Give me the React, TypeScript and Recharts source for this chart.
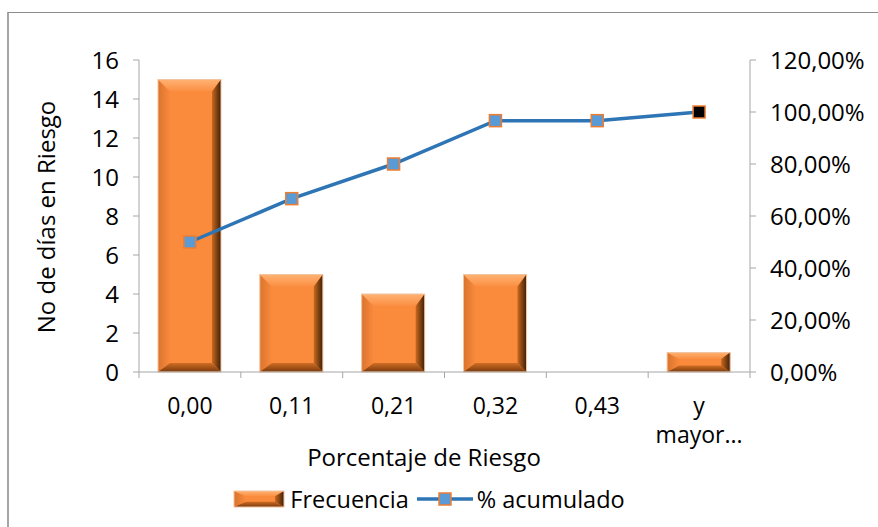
import {
  ComposedChart,
  Bar,
  Line,
  XAxis,
  YAxis,
  Legend,
} from 'recharts';

const categories = ['0,00', '0,11', '0,21', '0,32', '0,43', 'y mayor...'];
const frecuencia = [15, 5, 4, 5, 0, 1];
const acumulado = [0.5, 0.6667, 0.8, 0.9667, 0.9667, 1.0];
const leftTicks = [0, 2, 4, 6, 8, 10, 12, 14, 16];
const rightTicks = [0, 0.2, 0.4, 0.6, 0.8, 1.0, 1.2];

const data = categories.map((c, i) => ({
  name: c,
  frecuencia: frecuencia[i],
  acumulado: acumulado[i],
}));

const FONT = '"Open Sans", sans-serif';
const FS = 24;
const AXIS = '#a6a6a6';
const BAND = (750 - 139) / categories.length;

const BevelDefs = ({ id }: { id: string }) => (
  <defs>
    <linearGradient id={`${id}-top`} x1="0" y1="0" x2="0" y2="1">
      <stop offset="0%" stopColor="#ffb273" />
      <stop offset="100%" stopColor="#fb8e42" />
    </linearGradient>
    <linearGradient id={`${id}-left`} x1="0" y1="0" x2="1" y2="0">
      <stop offset="0%" stopColor="#d9742d" />
      <stop offset="100%" stopColor="#fa8a3c" />
    </linearGradient>
    <linearGradient id={`${id}-right`} x1="0" y1="0" x2="1" y2="0">
      <stop offset="0%" stopColor="#c9691f" />
      <stop offset="100%" stopColor="#3f1f06" />
    </linearGradient>
    <linearGradient id={`${id}-bottom`} x1="0" y1="0" x2="0" y2="1">
      <stop offset="0%" stopColor="#d06d24" />
      <stop offset="100%" stopColor="#7a3a0c" />
    </linearGradient>
  </defs>
);

const bevelParts = (id: string, x: number, y: number, w: number, h: number) => {
  const t = Math.min(12, h / 3);
  const bt = Math.min(9, h / 3);
  const r = Math.min(9, w / 4);
  const l = Math.min(12, w / 4);
  return (
    <g>
      <rect x={x} y={y} width={w} height={h} fill="#fa8a3c" />
      <polygon
        points={`${x},${y} ${x + l},${y + t} ${x + l},${y + h - bt} ${x},${y + h}`}
        fill={`url(#${id}-left)`}
      />
      <polygon
        points={`${x},${y} ${x + w},${y} ${x + w - r},${y + t} ${x + l},${y + t}`}
        fill={`url(#${id}-top)`}
      />
      <polygon
        points={`${x + w},${y} ${x + w},${y + h} ${x + w - r},${y + h - bt} ${x + w - r},${y + t}`}
        fill={`url(#${id}-right)`}
      />
      <polygon
        points={`${x},${y + h} ${x + w},${y + h} ${x + w - r},${y + h - bt} ${x + l},${y + h - bt}`}
        fill={`url(#${id}-bottom)`}
      />
      <rect x={x} y={y} width={w} height={h} fill="none" stroke="#f3c4a0" strokeWidth={1} />
    </g>
  );
};

const BevelBar = (props: any) => {
  const { x, y, width, height } = props;
  if (!height || height <= 0) return null;
  return bevelParts('bar', x, y, width, height);
};

const SquareDot = (props: any) => {
  const { cx, cy, index } = props;
  if (cx == null || cy == null) return null;
  const last = index === acumulado.length - 1;
  return (
    <rect
      key={`dot-${index}`}
      x={cx - 6}
      y={cy - 6}
      width={12}
      height={12}
      fill={last ? '#000000' : '#5b9bd5'}
      stroke="#ed7d31"
      strokeWidth={1.5}
    />
  );
};

// category labels sit between boundary tick marks; long labels wrap onto a second line
const CategoryTick = (props: any) => {
  const { x, y, payload, index } = props;
  const lines = String(payload.value).split(' ');
  return (
    <g>
      <line x1={x - BAND / 2} y1={y} x2={x - BAND / 2} y2={y + 6} stroke={AXIS} />
      {index === categories.length - 1 && (
        <line x1={x + BAND / 2} y1={y} x2={x + BAND / 2} y2={y + 6} stroke={AXIS} />
      )}
      {lines.map((ln, i) => (
        <text
          key={i}
          x={x}
          y={y + 42 + i * 29}
          textAnchor="middle"
          fontFamily={FONT}
          fontSize={23}
          fill="#000"
        >
          {ln}
        </text>
      ))}
    </g>
  );
};

const YTitle = () => (
  <text
    x={45}
    y={217}
    transform="rotate(-90 45 217)"
    textAnchor="middle"
    dominantBaseline="central"
    fontFamily={FONT}
    fontSize={FS}
    fill="#000"
  >
    No de días en Riesgo
  </text>
);

const XTitle = () => (
  <text x={424} y={466} textAnchor="middle" fontFamily={FONT} fontSize={FS} fill="#000">
    Porcentaje de Riesgo
  </text>
);

const LegendContent = () => (
  <div
    style={{
      display: 'flex',
      justifyContent: 'center',
      alignItems: 'center',
      paddingRight: 20,
      fontFamily: FONT,
      fontSize: 23.5,
      color: '#000',
    }}
  >
    <svg width={52} height={18} style={{ marginRight: 5 }}>
      <BevelDefs id="leg" />
      {bevelParts('leg', 1, 1, 50, 16)}
    </svg>
    <span style={{ marginRight: 8 }}>Frecuencia</span>
    <svg width={56} height={18} style={{ marginRight: 4 }}>
      <line x1={0} y1={9} x2={56} y2={9} stroke="#2e75b6" strokeWidth={3.5} />
      <rect x={22} y={3} width={12} height={12} fill="#5b9bd5" stroke="#ed7d31" strokeWidth={1.5} />
    </svg>
    <span>% acumulado</span>
  </div>
);

const pctFormat = (v: number) => `${(v * 100).toFixed(2).replace('.', ',')}%`;

export default function App() {
  return (
    <div style={{ position: 'absolute', left: 0, top: 0, width: 878, height: 527, background: '#fff', overflow: 'hidden' }}>
      <div
        style={{
          position: 'absolute',
          left: 7,
          top: 12,
          width: 900,
          height: 600,
          borderLeft: '2px solid #a6a6a6',
          borderTop: '1px solid #8c8c8c',
        }}
      />
      <ComposedChart
        width={878}
        height={527}
        data={data}
        margin={{ top: 60, right: 0, bottom: 4, left: 0 }}
        style={{ position: 'absolute', left: 0, top: 0 }}
      >
        <BevelDefs id="bar" />
        <XAxis
          dataKey="name"
          xAxisId={0}
          height={111}
          axisLine={{ stroke: AXIS }}
          tickLine={false}
          tickSize={0}
          tickMargin={0}
          tick={<CategoryTick />}
          interval={0}
        />
        <YAxis
          yAxisId="left"
          orientation="left"
          width={139}
          domain={[0, 16]}
          ticks={leftTicks}
          axisLine={{ stroke: AXIS }}
          tickLine={{ stroke: AXIS }}
          tickSize={6}
          tickMargin={14}
          tick={{ fill: '#000', fontSize: FS, fontFamily: FONT }}
        />
        <YAxis
          yAxisId="right"
          orientation="right"
          width={128}
          domain={[0, 1.2]}
          ticks={rightTicks}
          tickFormatter={pctFormat}
          axisLine={{ stroke: AXIS }}
          tickLine={{ stroke: AXIS }}
          tickSize={6}
          tickMargin={14}
          tick={{ fill: '#000', fontSize: FS, fontFamily: FONT }}
        />
        <Bar
          yAxisId="left"
          dataKey="frecuencia"
          name="Frecuencia"
          barSize={63}
          shape={<BevelBar />}
          isAnimationActive={false}
        />
        <Line
          yAxisId="right"
          dataKey="acumulado"
          name="% acumulado"
          stroke="#2e75b6"
          strokeWidth={3.5}
          dot={<SquareDot />}
          activeDot={false}
          isAnimationActive={false}
        />
        <Legend verticalAlign="bottom" height={40} content={<LegendContent />} />
        <YTitle />
        <XTitle />
      </ComposedChart>
    </div>
  );
}
